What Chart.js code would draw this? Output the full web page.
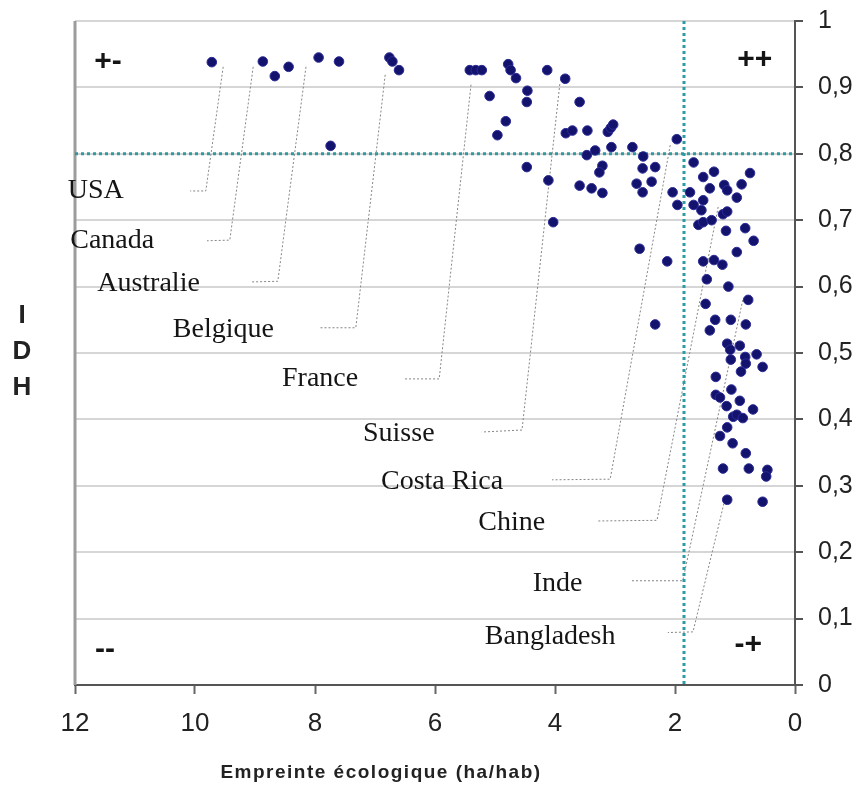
<!DOCTYPE html>
<html lang="fr">
<head>
<meta charset="utf-8">
<title>IDH et empreinte écologique</title>
<script src="https://cdn.jsdelivr.net/npm/chart.js@4.4.1/dist/chart.umd.min.js"></script>
<style>
  html, body { margin: 0; padding: 0; background: #fff; }
  #graphique { display: block; }
</style>
</head>
<body>
<canvas id="graphique" width="857" height="787"></canvas>
<script>
// Empreinte écologique (ha/hab) de chaque pays
const empreinte = [
  9.72, 8.87, 8.67, 8.44, 7.94, 7.60, 6.76, 6.71, 6.60, 7.74,
  5.42, 5.32, 5.22, 4.78, 4.74, 4.65, 4.13, 3.83, 5.09, 4.46,
  4.47, 3.59, 4.82, 4.96, 3.82, 3.71, 3.46, 3.12, 3.07, 3.03,
  3.06, 2.71, 1.97, 3.47, 3.33, 2.53, 4.47, 4.11, 4.03, 3.21,
  3.26, 3.59, 3.39, 3.21, 2.54, 2.33, 2.64, 2.54, 2.39, 2.59,
  2.13, 2.33, 2.04, 1.96, 1.75, 1.69, 1.53, 1.35, 0.75, 1.42,
  1.18, 1.13, 0.89, 0.97, 1.69, 1.53, 1.56, 1.61, 1.53, 1.39,
  1.20, 1.13, 1.15, 0.83, 0.69, 0.97, 1.53, 1.35, 1.21, 1.47,
  1.11, 1.49, 0.78, 1.33, 1.07, 1.42, 0.82, 1.13, 0.92, 1.08,
  0.83, 0.64, 1.07, 0.82, 0.54, 0.90, 1.32, 1.32, 1.25, 1.06,
  0.92, 1.14, 0.70, 1.03, 0.97, 0.87, 1.13, 1.25, 1.04, 0.82,
  1.20, 0.77, 0.46, 0.48, 1.13, 0.54
];
// IDH correspondant
const idh = [
  0.938, 0.939, 0.917, 0.931, 0.945, 0.939, 0.945, 0.939, 0.926, 0.812,
  0.926, 0.926, 0.926, 0.935, 0.926, 0.914, 0.926, 0.913, 0.887, 0.895,
  0.878, 0.878, 0.849, 0.828, 0.831, 0.835, 0.835, 0.833, 0.839, 0.844,
  0.810, 0.810, 0.822, 0.798, 0.805, 0.796, 0.780, 0.760, 0.697, 0.782,
  0.772, 0.752, 0.748, 0.741, 0.778, 0.780, 0.755, 0.742, 0.758, 0.657,
  0.638, 0.543, 0.742, 0.723, 0.742, 0.787, 0.765, 0.773, 0.771, 0.748,
  0.753, 0.745, 0.754, 0.734, 0.723, 0.730, 0.715, 0.693, 0.697, 0.700,
  0.709, 0.713, 0.684, 0.688, 0.669, 0.652, 0.638, 0.640, 0.633, 0.611,
  0.600, 0.574, 0.580, 0.550, 0.550, 0.534, 0.543, 0.514, 0.511, 0.505,
  0.494, 0.498, 0.490, 0.484, 0.479, 0.472, 0.464, 0.437, 0.433, 0.445,
  0.428, 0.420, 0.415, 0.404, 0.407, 0.402, 0.388, 0.375, 0.364, 0.349,
  0.326, 0.326, 0.324, 0.314, 0.279, 0.276
];

const seuilEmpreinte = 1.85;
const seuilIdh = 0.8;

// Pays annotés, avec leur ligne de renvoi (en unités des axes)
const pays = ['USA', 'Canada', 'Australie', 'Belgique', 'France', 'Suisse', 'Costa Rica', 'Chine', 'Inde', 'Bangladesh'];
const renvois = [
  [[9.53, 0.931], [9.82, 0.744], [10.08, 0.744]],
  [[9.03, 0.931], [9.42, 0.670], [9.80, 0.669]],
  [[8.15, 0.931], [8.62, 0.608], [9.07, 0.607]],
  [[6.83, 0.919], [7.32, 0.538], [7.92, 0.538]],
  [[5.40, 0.904], [5.93, 0.461], [6.52, 0.461]],
  [[3.92, 0.905], [4.55, 0.384], [5.22, 0.381]],
  [[2.08, 0.813], [3.08, 0.310], [4.05, 0.309]],
  [[1.28, 0.720], [2.30, 0.248], [3.30, 0.247]],
  [[0.87, 0.580], [1.87, 0.157], [2.72, 0.157]],
  [[1.17, 0.279], [1.70, 0.080], [2.12, 0.079]]
];
const placePays = [
  [12.12, 0.744], [12.08, 0.669], [11.63, 0.605], [10.37, 0.535], [8.55, 0.461],
  [7.20, 0.378], [6.90, 0.306], [5.28, 0.244], [4.37, 0.153], [5.17, 0.073]
];

const quadrants = ['+-', '++', '--', '-+'];
const placeQuadrants = [[11.45, 0.938], [0.67, 0.941], [11.5, 0.053], [0.78, 0.06]];

const points = empreinte.map((v, i) => ({ x: v, y: idh[i] }));

const decor = {
  id: 'decor',
  beforeDatasetsDraw(chart) {
    const { ctx, chartArea: a, scales: { x, y } } = chart;
    const px = v => x.getPixelForValue(v);
    const py = v => y.getPixelForValue(v);
    ctx.save();

    // bord gauche du cadre
    ctx.strokeStyle = '#9c9c9c';
    ctx.lineWidth = 3;
    ctx.beginPath();
    ctx.moveTo(a.left, a.top);
    ctx.lineTo(a.left, a.bottom);
    ctx.stroke();

    // lignes de renvoi
    ctx.strokeStyle = '#858585';
    ctx.lineWidth = 1;
    ctx.setLineDash([2, 2]);
    renvois.forEach(r => {
      ctx.beginPath();
      r.forEach(([vx, vy], i) => i ? ctx.lineTo(px(vx), py(vy)) : ctx.moveTo(px(vx), py(vy)));
      ctx.stroke();
    });

    // seuils
    ctx.strokeStyle = '#2e9aa2';
    ctx.lineWidth = 3;
    ctx.setLineDash([3, 3]);
    ctx.beginPath();
    ctx.moveTo(px(seuilEmpreinte), a.top);
    ctx.lineTo(px(seuilEmpreinte), a.bottom);
    ctx.moveTo(a.left, py(seuilIdh));
    ctx.lineTo(a.right, py(seuilIdh));
    ctx.stroke();
    ctx.setLineDash([]);

    // noms des pays
    ctx.fillStyle = '#151515';
    ctx.font = '28px "Liberation Serif", serif';
    ctx.textAlign = 'left';
    ctx.textBaseline = 'middle';
    pays.forEach((p, i) => ctx.fillText(p, px(placePays[i][0]), py(placePays[i][1])));

    // quadrants
    ctx.font = 'bold 30px "Liberation Sans", sans-serif';
    ctx.textAlign = 'center';
    quadrants.forEach((q, i) => ctx.fillText(q, px(placeQuadrants[i][0]), py(placeQuadrants[i][1])));

    // titre vertical I D H
    ctx.fillStyle = '#222';
    ctx.font = 'bold 26px "Liberation Sans", sans-serif';
    ['I', 'D', 'H'].forEach((c, i) => ctx.fillText(c, 22, 316 + i * 36));

    // titre de l'axe horizontal
    ctx.font = 'bold 19px "Liberation Sans", sans-serif';
    ctx.letterSpacing = '1.5px';
    ctx.fillText('Empreinte écologique (ha/hab)', 381, 773);
    ctx.restore();
  }
};

new Chart(document.getElementById('graphique'), {
  type: 'scatter',
  data: {
    datasets: [{
      data: points,
      backgroundColor: '#13136e',
      borderColor: '#2b2b95',
      borderWidth: 1,
      pointRadius: 4.8
    }]
  },
  options: {
    responsive: false,
    animation: false,
    layout: { padding: { left: 75, top: 21, right: 0, bottom: 0 } },
    plugins: { legend: { display: false }, tooltip: { enabled: false } },
    font: { family: '"Liberation Sans", Arial, sans-serif' },
    scales: {
      x: {
        type: 'linear',
        reverse: true,
        min: 0,
        max: 12,
        afterFit: s => { s.height = 102; },
        grid: { drawOnChartArea: false, drawTicks: true, tickLength: 9, tickColor: '#666', tickWidth: 2 },
        border: { color: '#555', width: 2 },
        ticks: { stepSize: 2, font: { size: 26 }, color: '#222', padding: 14, maxRotation: 0, autoSkip: false }
      },
      y: {
        position: 'right',
        min: 0,
        max: 1,
        afterFit: s => { s.width = 62; s.paddingTop = 0; s.paddingBottom = 0; },
        grid: { color: '#d6d6d6', lineWidth: 2, tickColor: '#555', tickLength: 8, tickWidth: 2 },
        border: { color: '#555', width: 2 },
        ticks: {
          stepSize: 0.1,
          font: { size: 25 },
          color: '#222',
          padding: 15,
          callback: v => (Math.round(v * 10) / 10).toString().replace('.', ',')
        }
      }
    }
  },
  plugins: [decor]
});
</script>
</body>
</html>
